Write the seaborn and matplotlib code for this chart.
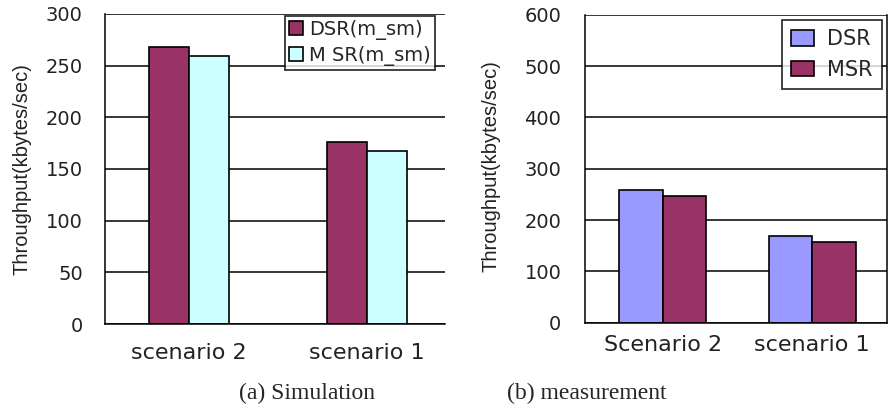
import pandas as pd
import seaborn as sns
import matplotlib.pyplot as plt
from matplotlib.ticker import FixedLocator

# data
scenarios_a = ['scenario 2', 'scenario 1']
dsr_sim = [268, 176]
msr_sim = [259, 167]

scenarios_b = ['Scenario 2', 'scenario 1']
dsr_meas = [259, 168]
msr_meas = [246, 158]

labels_a = ['DSR(m_sm)', 'M SR(m_sm)']
labels_b = ['DSR', 'MSR']

maroon = '#993366'
cyan = '#CCFFFF'
blue = '#9999FF'

sns.set_style("white")
plt.rcParams['font.family'] = ['DejaVu Sans']

fig = plt.figure(figsize=(8.91, 4.07), dpi=100)
W, H = 891.0, 407.0


def make_df(cats, a, b, labels):
    rows = []
    for c, v in zip(cats, a):
        rows.append((c, labels[0], v))
    for c, v in zip(cats, b):
        rows.append((c, labels[1], v))
    return pd.DataFrame(rows, columns=['scenario', 'protocol', 'throughput'])


def panel(ax, df, cats, labels, colors, width, ymax, xlim, minor, right_spine):
    sns.barplot(data=df, x='scenario', y='throughput', hue='protocol',
                order=cats, hue_order=labels, palette=colors, width=width,
                saturation=1, edgecolor='black', linewidth=1.2, ax=ax)
    ax.set_xlim(*xlim)
    ax.set_ylim(0, ymax)
    ax.set_axisbelow(True)
    ax.yaxis.grid(True, color='black', linewidth=1.1)
    ax.xaxis.grid(False)
    for s in ['left', 'bottom']:
        ax.spines[s].set_color('black')
        ax.spines[s].set_linewidth(1.1)
    ax.spines['top'].set_visible(False)
    ax.spines['right'].set_visible(right_spine)
    ax.spines['right'].set_color('black')
    ax.spines['right'].set_linewidth(1.1)
    ax.set_xlabel('')
    ax.set_ylabel('Throughput(kbytes/sec)', family='Liberation Sans', fontsize=14.5, color='#222222')
    ax.xaxis.set_minor_locator(FixedLocator(minor))
    ax.tick_params(axis='x', which='major', length=0, labelsize=16, colors='#222222')
    ax.tick_params(axis='x', which='minor', length=5, width=1.1, color='black', direction='out')
    ax.tick_params(axis='y', length=6, width=1.1, color='black', direction='out',
                   labelsize=14, labelcolor='#222222')
    ax.get_legend().remove()


# (a) Simulation
ax1 = fig.add_axes([105 / W, 1 - 324 / H, 340 / W, 310 / H])
df_a = make_df(scenarios_a, dsr_sim, msr_sim, labels_a)
panel(ax1, df_a, scenarios_a, labels_a, [maroon, cyan], 0.45, 300,
      (-0.47, 1.44), [0.5], False)
ax1.set_yticks(range(0, 301, 50))
ax1.tick_params(axis='y', pad=10)
ax1.tick_params(axis='x', which='major', pad=14)
ax1.yaxis.set_label_coords(-0.215, 0.5)
h, l = ax1.get_legend_handles_labels()
leg1 = fig.legend(h, l, loc='upper left', bbox_to_anchor=(285 / W, 1 - 16 / H),
                  frameon=True, fancybox=False, edgecolor='black', fontsize=14,
                  handlelength=0.75, handleheight=0.75, handletextpad=0.3,
                  borderpad=0.2, labelspacing=0.3, borderaxespad=0)
leg1.get_frame().set_linewidth(1.3)

# (b) measurement
ax2 = fig.add_axes([585 / W, 1 - 322.7 / H, 302 / W, 308 / H])
df_b = make_df(scenarios_b, dsr_meas, msr_meas, labels_b)
panel(ax2, df_b, scenarios_b, labels_b, [blue, maroon], 0.58, 600,
      (-0.52, 1.5), [-0.5, 0.5, 1.5], True)
ax2.set_yticks(range(0, 601, 100))
ax2.tick_params(axis='y', pad=11)
ax2.tick_params(axis='x', which='major', pad=9)
ax2.yaxis.set_label_coords(-0.28, 0.51)
h, l = ax2.get_legend_handles_labels()
leg2 = fig.legend(h, l, loc='upper left', bbox_to_anchor=(782 / W, 1 - 20 / H),
                  frameon=True, fancybox=False, edgecolor='black', fontsize=15,
                  handlelength=1.1, handleheight=0.75, handletextpad=0.6,
                  borderpad=0.45, labelspacing=0.5, borderaxespad=0)
leg2.get_frame().set_linewidth(1.3)

fig.text(307 / W, 1 - 393 / H, '(a) Simulation', ha='center', va='center',
         family='Liberation Serif', fontsize=17)
fig.text(587 / W, 1 - 393 / H, '(b) measurement', ha='center', va='center',
         family='Liberation Serif', fontsize=17)

plt.savefig('out.png', dpi=100)
plt.close()
